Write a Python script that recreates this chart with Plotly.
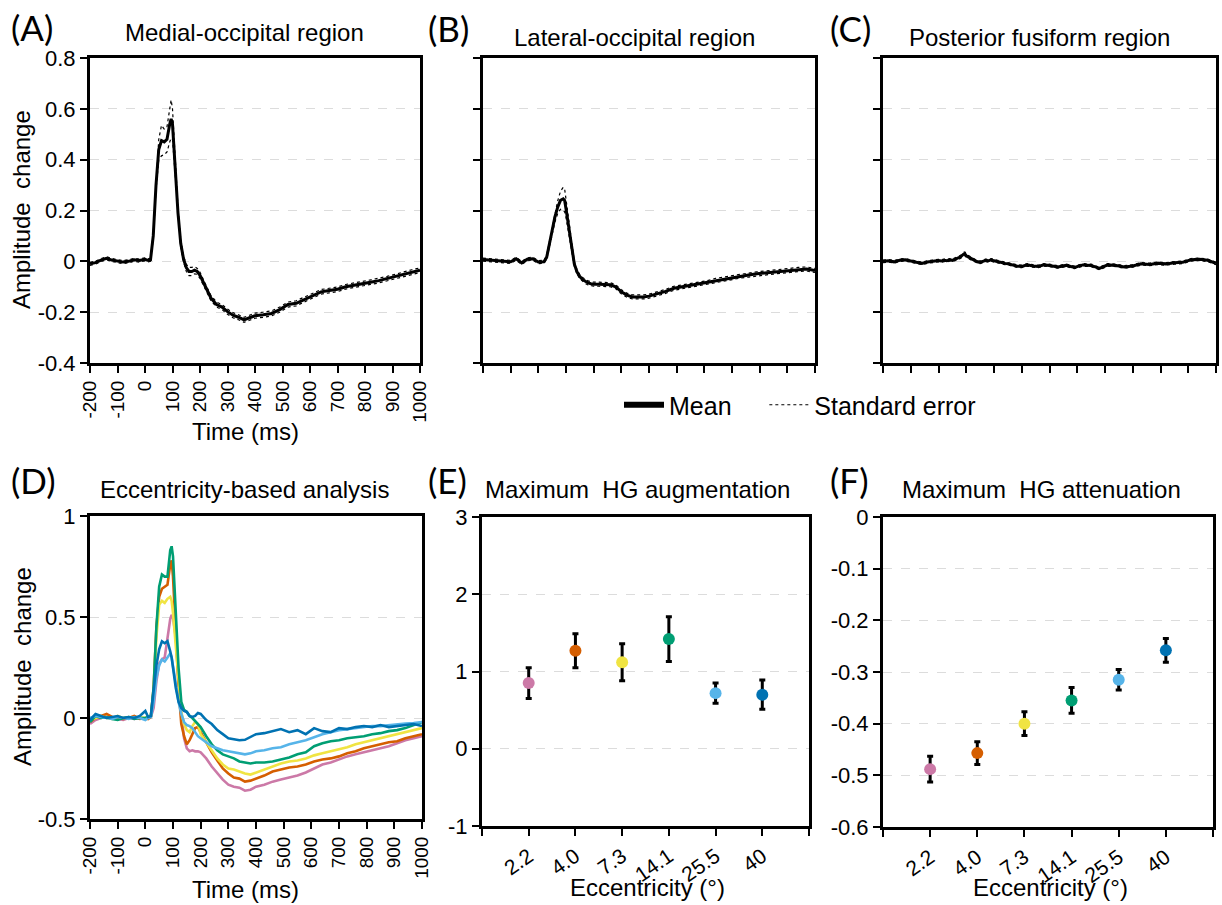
import plotly.graph_objects as go

# ---------------- data ----------------
T = [-200, -180, -160, -140, -120, -100, -80, -60, -40, -20,
     0, 10, 20, 30, 40, 50, 60, 70, 80, 90,
     95, 100, 110, 120, 130, 140, 150, 160, 170, 180,
     190, 200, 220, 240, 260, 280, 300, 320, 340, 360,
     380, 400, 430, 460, 490, 520, 550, 580, 610, 640,
     670, 700, 730, 760, 790, 820, 850, 880, 910, 940,
     970, 1000]

A_mean = [-0.010, -0.005, 0.005, 0.012, 0.005, 0.002, -0.003, 0.000, 0.006, 0.003,
          0.008, 0.004, 0.006, 0.100, 0.300, 0.440, 0.475, 0.470, 0.480, 0.540,
          0.560, 0.540, 0.370, 0.190, 0.070, 0.010, -0.025, -0.040, -0.040, -0.035,
          -0.040, -0.055, -0.100, -0.145, -0.170, -0.180, -0.198, -0.212, -0.220, -0.230,
          -0.222, -0.214, -0.210, -0.205, -0.190, -0.170, -0.165, -0.150, -0.135, -0.120,
          -0.115, -0.110, -0.100, -0.093, -0.088, -0.082, -0.076, -0.068, -0.060, -0.050,
          -0.042, -0.035]
A_se = [0.006, 0.006, 0.006, 0.006, 0.006, 0.006, 0.006, 0.006, 0.006, 0.006,
        0.006, 0.006, 0.006, 0.010, 0.020, 0.040, 0.060, 0.050, 0.050, 0.070,
        0.075, 0.060, 0.040, 0.020, 0.015, 0.012, 0.014, 0.016, 0.016, 0.014,
        0.012, 0.012, 0.010, 0.010, 0.010, 0.010, 0.010, 0.010, 0.010, 0.010,
        0.010, 0.010, 0.010, 0.010, 0.010, 0.010, 0.010, 0.010, 0.009, 0.009,
        0.009, 0.009, 0.009, 0.009, 0.009, 0.009, 0.009, 0.009, 0.009, 0.009,
        0.009, 0.009]

B_mean = [0.007, 0.005, 0.002, 0.000, 0.000, -0.002, 0.010, -0.006, 0.008, 0.010,
          -0.003, -0.003, -0.002, 0.015, 0.070, 0.120, 0.175, 0.213, 0.240, 0.246,
          0.240, 0.207, 0.135, 0.056, -0.010, -0.042, -0.060, -0.072, -0.080, -0.085,
          -0.088, -0.090, -0.090, -0.090, -0.092, -0.100, -0.120, -0.133, -0.140, -0.140,
          -0.140, -0.137, -0.128, -0.118, -0.106, -0.100, -0.094, -0.089, -0.084, -0.075,
          -0.070, -0.064, -0.058, -0.054, -0.049, -0.046, -0.042, -0.040, -0.036, -0.032,
          -0.030, -0.036]
B_se = [0.006, 0.006, 0.006, 0.006, 0.006, 0.006, 0.006, 0.006, 0.006, 0.006,
        0.006, 0.006, 0.006, 0.008, 0.010, 0.015, 0.020, 0.025, 0.035, 0.045,
        0.045, 0.035, 0.020, 0.012, 0.010, 0.008, 0.008, 0.008, 0.008, 0.008,
        0.008, 0.008, 0.008, 0.008, 0.008, 0.008, 0.008, 0.008, 0.008, 0.008,
        0.008, 0.008, 0.008, 0.008, 0.008, 0.008, 0.008, 0.008, 0.008, 0.008,
        0.008, 0.008, 0.008, 0.008, 0.008, 0.008, 0.008, 0.008, 0.008, 0.008,
        0.008, 0.008]

C_mean = [0.000, 0.002, -0.002, 0.004, 0.006, 0.002, -0.004, -0.008, -0.003, 0.000,
          0.003, 0.001, 0.004, 0.002, 0.006, 0.004, 0.008, 0.012, 0.018, 0.028,
          0.030, 0.022, 0.015, 0.010, 0.004, -0.002, -0.004, 0.000, 0.004, 0.002,
          0.006, 0.002, -0.004, -0.008, -0.012, -0.018, -0.020, -0.014, -0.018, -0.020,
          -0.014, -0.016, -0.022, -0.016, -0.024, -0.014, -0.016, -0.028, -0.014, -0.016,
          -0.022, -0.018, -0.010, -0.012, -0.008, -0.010, -0.006, -0.004, 0.006, 0.008,
          0.004, -0.008]
C_se = [0.005, 0.005, 0.005, 0.005, 0.005, 0.005, 0.005, 0.005, 0.005, 0.005,
        0.005, 0.005, 0.005, 0.005, 0.005, 0.005, 0.006, 0.006, 0.006, 0.007,
        0.007, 0.006, 0.006, 0.006, 0.005, 0.005, 0.005, 0.005, 0.005, 0.005,
        0.005, 0.005, 0.005, 0.005, 0.005, 0.005, 0.005, 0.005, 0.005, 0.005,
        0.005, 0.005, 0.005, 0.005, 0.005, 0.005, 0.005, 0.005, 0.005, 0.005,
        0.005, 0.005, 0.005, 0.005, 0.005, 0.005, 0.005, 0.005, 0.005, 0.005,
        0.005, 0.005]

D_ecc_40 = [-0.010, 0.020, 0.010, 0.000, 0.005, 0.010, 0.000, 0.005, 0.000, 0.010,
            0.035, 0.005, 0.010, 0.120, 0.260, 0.340, 0.380, 0.370, 0.380, 0.330,
            0.300, 0.250, 0.150, 0.080, 0.050, 0.035, 0.030, 0.010, 0.005, 0.010,
            0.025, 0.020, -0.010, -0.030, -0.060, -0.080, -0.100, -0.105, -0.110, -0.108,
            -0.095, -0.080, -0.075, -0.065, -0.055, -0.070, -0.060, -0.080, -0.050, -0.065,
            -0.070, -0.050, -0.055, -0.045, -0.040, -0.045, -0.035, -0.045, -0.040, -0.035,
            -0.030, -0.040]
D_ecc_25_5 = [0.000, 0.010, 0.005, 0.000, -0.005, 0.005, 0.000, -0.005, 0.005, 0.000,
              -0.010, 0.000, 0.005, 0.080, 0.200, 0.260, 0.290, 0.280, 0.300, 0.320,
              0.300, 0.250, 0.170, 0.080, 0.020, -0.020, -0.035, -0.040, -0.050, -0.070,
              -0.090, -0.100, -0.120, -0.140, -0.150, -0.160, -0.165, -0.170, -0.175, -0.180,
              -0.175, -0.165, -0.160, -0.150, -0.145, -0.130, -0.120, -0.110, -0.095, -0.080,
              -0.070, -0.060, -0.055, -0.050, -0.045, -0.040, -0.040, -0.035, -0.030, -0.028,
              -0.025, -0.020]
D_ecc_14_1 = [-0.020, 0.010, 0.000, 0.005, -0.005, -0.010, 0.000, 0.005, -0.005, 0.000,
              0.000, 0.005, 0.010, 0.150, 0.450, 0.650, 0.710, 0.700, 0.700, 0.830,
              0.850, 0.800, 0.550, 0.250, 0.080, 0.040, 0.030, 0.010, 0.000, -0.015,
              -0.030, -0.045, -0.090, -0.130, -0.160, -0.180, -0.190, -0.200, -0.215, -0.220,
              -0.225, -0.220, -0.220, -0.215, -0.205, -0.195, -0.180, -0.170, -0.140, -0.125,
              -0.115, -0.110, -0.100, -0.095, -0.090, -0.080, -0.075, -0.065, -0.060, -0.050,
              -0.035, -0.020]
D_ecc_7_3 = [-0.010, 0.000, 0.010, 0.000, -0.005, 0.010, 0.000, 0.005, 0.000, 0.005,
             0.000, 0.005, 0.010, 0.120, 0.400, 0.560, 0.580, 0.570, 0.590, 0.600,
             0.580, 0.520, 0.350, 0.170, 0.030, -0.030, -0.060, -0.070, -0.040, -0.020,
             -0.030, -0.080, -0.120, -0.160, -0.200, -0.230, -0.250, -0.255, -0.265, -0.275,
             -0.280, -0.270, -0.255, -0.240, -0.225, -0.215, -0.210, -0.200, -0.185, -0.175,
             -0.165, -0.155, -0.145, -0.130, -0.120, -0.110, -0.100, -0.090, -0.080, -0.070,
             -0.060, -0.050]
D_ecc_4_0 = [-0.020, 0.000, 0.010, 0.020, 0.005, 0.000, -0.005, 0.000, 0.010, -0.005,
             0.000, -0.005, 0.005, 0.150, 0.450, 0.600, 0.640, 0.650, 0.660, 0.760,
             0.780, 0.700, 0.420, 0.150, -0.030, -0.090, -0.130, -0.110, -0.080, -0.050,
             -0.045, -0.070, -0.120, -0.170, -0.210, -0.250, -0.275, -0.295, -0.300, -0.315,
             -0.310, -0.300, -0.285, -0.265, -0.255, -0.245, -0.240, -0.230, -0.215, -0.205,
             -0.200, -0.190, -0.175, -0.165, -0.150, -0.140, -0.130, -0.120, -0.115, -0.100,
             -0.090, -0.080]
D_ecc_2_2 = [-0.030, -0.010, 0.000, 0.005, 0.000, -0.005, -0.010, 0.000, -0.005, 0.000,
             -0.005, 0.000, 0.005, 0.050, 0.180, 0.270, 0.290, 0.300, 0.400, 0.490,
             0.510, 0.500, 0.400, 0.220, 0.020, -0.100, -0.150, -0.165, -0.160, -0.165,
             -0.165, -0.170, -0.200, -0.240, -0.275, -0.305, -0.330, -0.340, -0.345, -0.360,
             -0.355, -0.340, -0.330, -0.315, -0.305, -0.295, -0.285, -0.270, -0.250, -0.230,
             -0.220, -0.205, -0.190, -0.180, -0.170, -0.160, -0.150, -0.140, -0.125, -0.110,
             -0.100, -0.090]

ecc_labels = ["2.2", "4.0", "7.3", "14.1", "25.5", "40"]
ecc_colors = ["#CC79A7", "#D55E00", "#F0E442", "#009E73", "#56B4E9", "#0072B2"]
D_series = [D_ecc_2_2, D_ecc_4_0, D_ecc_7_3, D_ecc_14_1, D_ecc_25_5, D_ecc_40]

E_aug = [0.85, 1.27, 1.12, 1.42, 0.72, 0.70]
E_err = [0.20, 0.22, 0.24, 0.29, 0.13, 0.19]
F_att = [-0.488, -0.457, -0.400, -0.355, -0.315, -0.258]
F_err = [0.025, 0.022, 0.023, 0.025, 0.020, 0.023]

time_ticks = [-200, -100, 0, 100, 200, 300, 400, 500, 600, 700, 800, 900, 1000]
time_ticktext = ["-200", "-100", "0", "100", "200", "300", "400", "500", "600", "700", "800", "900", "1000"]
abc_yticks = [-0.4, -0.2, 0, 0.2, 0.4, 0.6, 0.8]
abc_yticktext = ["-0.4", "-0.2", "0", "0.2", "0.4", "0.6", "0.8"]
d_yticks = [-0.5, 0, 0.5, 1]
d_yticktext = ["-0.5", "0", "0.5", "1"]
e_yticks = [-1, 0, 1, 2, 3]
e_yticktext = ["-1", "0", "1", "2", "3"]
f_yticks = [-0.6, -0.5, -0.4, -0.3, -0.2, -0.1, 0]
f_yticktext = ["-0.6", "-0.5", "-0.4", "-0.3", "-0.2", "-0.1", "0"]

# ---------------- figure ----------------
W, H = 1222, 905
FONT = "Liberation Sans, Arial, sans-serif"
LETTER_FONT = "Lato, Open Sans, sans-serif"
NBSP = "\u00a0"


def px(x):
    return x / W


def py(y):
    return 1 - y / H


fig = go.Figure()

# panels A, B, C
for idx, (mean, se) in enumerate([(A_mean, A_se), (B_mean, B_se), (C_mean, C_se)]):
    n = "" if idx == 0 else str(idx + 1)
    xa, ya = "x" + n, "y" + n
    upper = [m + s for m, s in zip(mean, se)]
    lower = [m - s for m, s in zip(mean, se)]
    for band in (upper, lower):
        fig.add_trace(go.Scatter(x=T, y=band, mode="lines", xaxis=xa, yaxis=ya,
                                 line=dict(color="black", width=1.2, dash="dot"),
                                 showlegend=False, hoverinfo="skip"))
    fig.add_trace(go.Scatter(x=T, y=mean, mode="lines", xaxis=xa, yaxis=ya,
                             line=dict(color="black", width=3),
                             showlegend=False))

# panel D
for vals, col, lab in zip(D_series, ecc_colors, ecc_labels):
    fig.add_trace(go.Scatter(x=T, y=vals, mode="lines", xaxis="x4", yaxis="y4",
                             line=dict(color=col, width=2.6), name=lab,
                             showlegend=False))

# panels E, F
cat_pos = [1, 2, 3, 4, 5, 6]
fig.add_trace(go.Scatter(x=cat_pos, y=E_aug, mode="markers", xaxis="x5", yaxis="y5",
                         marker=dict(color=ecc_colors, size=12),
                         error_y=dict(type="data", array=E_err, color="black",
                                      thickness=3, width=3),
                         showlegend=False))
fig.add_trace(go.Scatter(x=cat_pos, y=F_att, mode="markers", xaxis="x6", yaxis="y6",
                         marker=dict(color=ecc_colors, size=12),
                         error_y=dict(type="data", array=F_err, color="black",
                                      thickness=3, width=3),
                         showlegend=False))

# legend entries
fig.add_trace(go.Scatter(x=[None], y=[None], mode="lines", xaxis="x", yaxis="y",
                         line=dict(color="black", width=6), name="Mean" + NBSP * 4))
fig.add_trace(go.Scatter(x=[None], y=[None], mode="lines", xaxis="x", yaxis="y",
                         line=dict(color="black", width=1.2, dash="dot"),
                         name="Standard error"))

axis_common = dict(showline=True, mirror=True, linecolor="black", linewidth=3,
                   ticks="outside", ticklen=7, tickwidth=2, tickcolor="black",
                   zeroline=False, automargin=False,
                   tickfont=dict(family=FONT, size=22, color="black"))
grid_y = dict(showgrid=True, gridcolor="#dcdcdc", gridwidth=1, griddash="dash")

domains_x = {1: (90, 420), 2: (483, 815), 3: (883, 1216),
             4: (90, 422), 5: (482, 809), 6: (883, 1213)}
domains_y = {1: (58, 363), 2: (58, 363), 3: (58, 363),
             4: (516, 819), 5: (517, 826), 6: (517, 827)}

layout_axes = {}
for i in range(1, 7):
    n = "" if i == 1 else str(i)
    x0, x1 = domains_x[i]
    y0, y1 = domains_y[i]
    xa = dict(axis_common, domain=[px(x0), px(x1)], anchor="y" + n, showgrid=False)
    ya = dict(axis_common, **grid_y, domain=[py(y1), py(y0)], anchor="x" + n)
    if i in (1, 2, 3, 4):
        xa.update(range=[-200, 1000], tickvals=time_ticks, ticktext=time_ticktext,
                  tickangle=-90, tickfont=dict(family=FONT, size=19, color="black"))
    if i in (1, 2, 3):
        ya.update(range=[-0.4, 0.8], tickvals=abc_yticks, ticktext=abc_yticktext)
    if i in (2, 3):
        xa.update(showticklabels=False)
        ya.update(showticklabels=False)
    if i == 4:
        ya.update(range=[-0.5, 1], tickvals=d_yticks, ticktext=d_yticktext)
    if i in (5, 6):
        xa.update(range=[0, 7], tickvals=[0] + cat_pos + [7],
                  ticktext=[""] + ecc_labels + [""], tickangle=-35,
                  tickfont=dict(family=FONT, size=21, color="black"))
    if i == 5:
        ya.update(range=[-1, 3], tickvals=e_yticks, ticktext=e_yticktext)
    if i == 6:
        ya.update(range=[-0.6, 0], tickvals=f_yticks, ticktext=f_yticktext)
    layout_axes["xaxis" + n] = xa
    layout_axes["yaxis" + n] = ya

annotations = []


def add_text(text, x, y, size, family=FONT, angle=0, xanchor="center"):
    annotations.append(dict(text=text, x=px(x), y=py(y), xref="paper", yref="paper",
                            showarrow=False, xanchor=xanchor, yanchor="middle",
                            textangle=angle,
                            font=dict(family=family, size=size, color="black")))


# panel letters
for lab, x, y in [("(A)", 9, 27), ("(B)", 426, 28), ("(C)", 828, 28),
                  ("(D)", 9, 480), ("(E)", 426, 480), ("(F)", 828, 480)]:
    add_text(lab, x, y, 35, family=LETTER_FONT, xanchor="left")

# panel titles
for lab, x, y in [("Medial-occipital region", 244, 33),
                  ("Lateral-occipital region", 634, 37),
                  ("Posterior fusiform region", 1039, 37),
                  ("Eccentricity-based analysis", 244, 490),
                  ("Maximum  HG augmentation", 637, 490),
                  ("Maximum  HG attenuation", 1041, 490)]:
    add_text(lab, x, y, 24)

# axis titles
add_text("Amplitude  change", 22, 210, 24, angle=-90)
add_text("Amplitude  change", 22, 667, 24, angle=-90)
add_text("Time (ms)", 245, 431, 24)
add_text("Time (ms)", 245, 889, 24)
add_text("Eccentricity (°)", 647, 887, 24)
add_text("Eccentricity (°)", 1050, 887, 24)

fig.update_layout(
    template="none",
    width=W, height=H, autosize=False,
    margin=dict(l=0, r=0, t=0, b=0, pad=0, autoexpand=False),
    paper_bgcolor="white", plot_bgcolor="white",
    font=dict(family=FONT, size=20, color="black"),
    showlegend=True,
    legend=dict(orientation="h", x=px(619), y=py(405), xanchor="left", yanchor="middle",
                font=dict(family=FONT, size=25, color="black"),
                bgcolor="rgba(0,0,0,0)", itemwidth=40),
    annotations=annotations,
    **layout_axes,
)

fig.write_html("out.html",
               config={"displayModeBar": False},
               post_script="document.body.style.margin='0';document.body.style.overflow='hidden';")
